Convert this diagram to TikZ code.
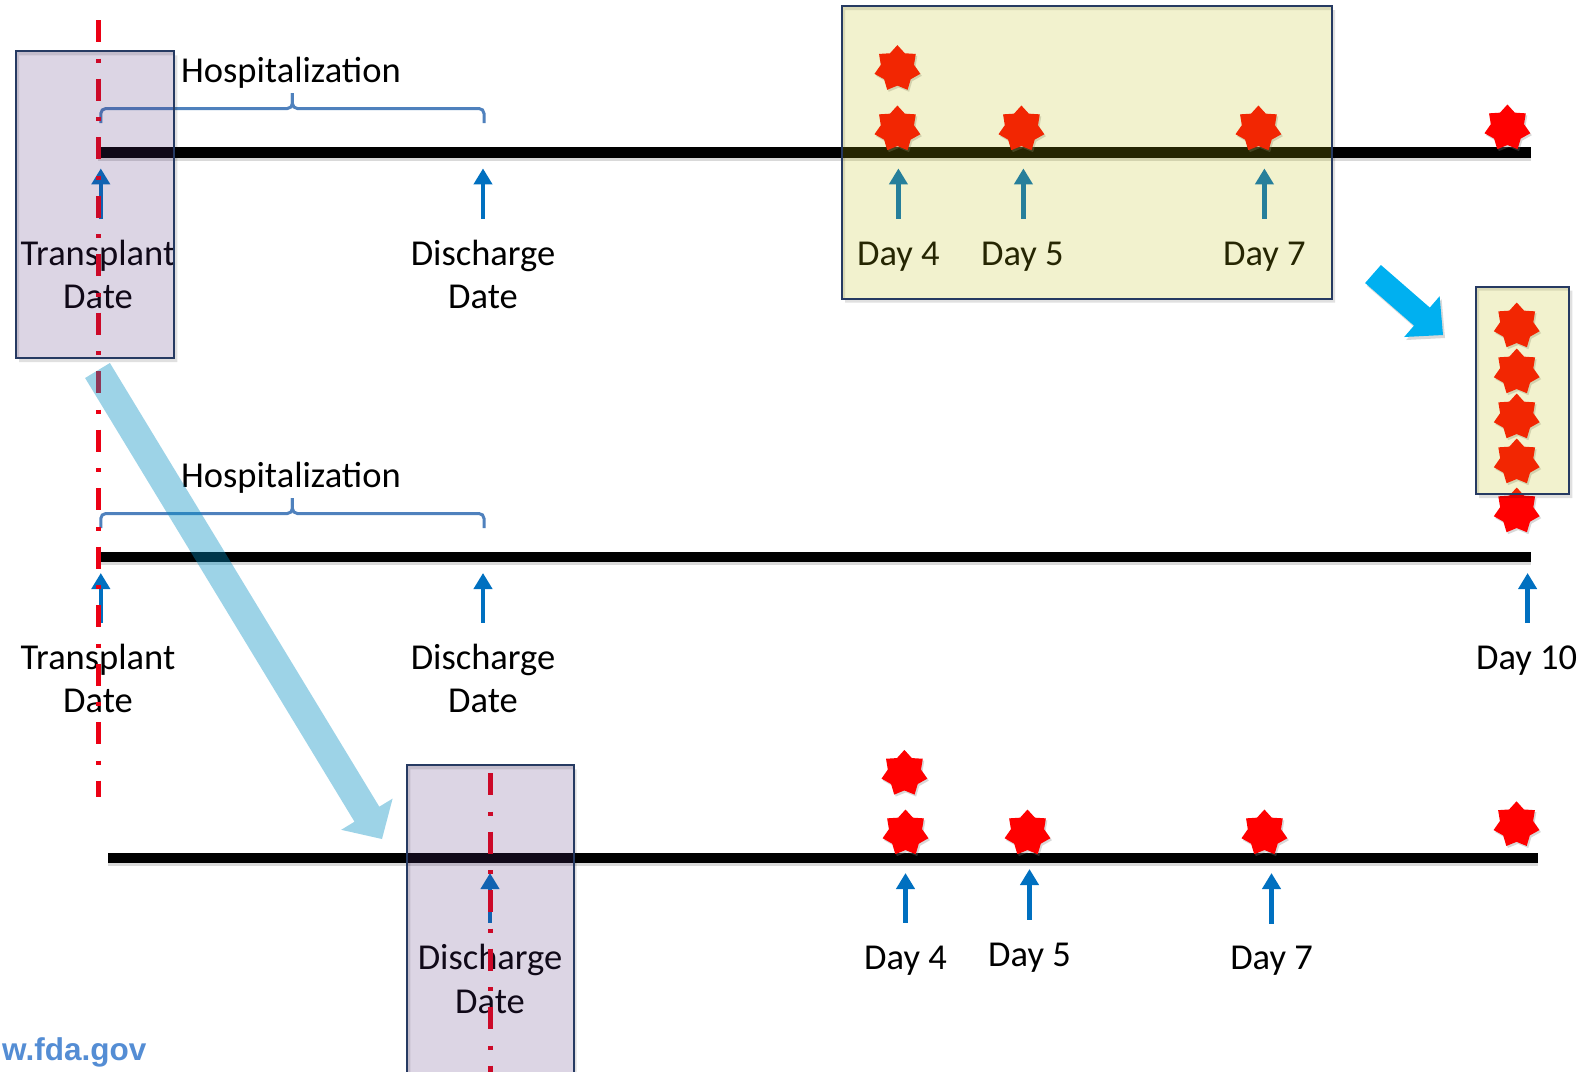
\documentclass[tikz,border=0pt]{standalone}
\usepackage{fontspec}
\setmainfont{Carlito}
\newfontfamily\webfont{Liberation Sans}
\usetikzlibrary{arrows.meta,shapes.geometric,shadows}

\definecolor{tlred}{RGB}{235,0,20}
\definecolor{upblue}{RGB}{0,112,192}
\definecolor{bracecol}{RGB}{79,129,189}
\definecolor{boxedge}{RGB}{38,58,98}
\definecolor{lavtint}{RGB}{80,45,120}
\definecolor{yeltint}{RGB}{190,190,10}
\definecolor{paleblue}{RGB}{0,143,195}
\definecolor{skyblue}{RGB}{0,176,240}
\definecolor{fdablue}{RGB}{84,141,212}

\tikzset{
  timeline/.style={line width=10.5pt, black},
  tlshadow/.style={line width=10.5pt, black, opacity=.15},
  marker/.style={tlred, line width=5pt, dash pattern=on 22pt off 16.5pt on 4pt off 16pt},
  hbrace/.style={bracecol, line width=3pt, rounded corners=5pt},
  uparrow/.style={upblue, line width=4.5pt, -{Triangle[width=18pt,length=16pt]}},
  lbl/.style={font=\fontsize{36.5}{43.3}\selectfont, align=center, inner sep=0pt, anchor=base},
  evstar/.style={star, star points=7, star point ratio=1.38, minimum size=47pt,
    inner sep=0pt, fill=red, draw=none,
    drop shadow={shadow xshift=1.5pt, shadow yshift=-2pt, opacity=.3}},
  boxshadow/.style={black, opacity=.12, even odd rule},
  lavbox/.style={fill=lavtint, fill opacity=.2, draw=boxedge, line width=2pt},
  yelbox/.style={fill=yeltint, fill opacity=.2, draw=boxedge, line width=2pt},
}

\begin{document}
\begin{tikzpicture}[x=1pt,y=-1pt]
\useasboundingbox (0,0) rectangle (1581,1071);
\clip (0,0) rectangle (1581,1071);
\fill[white] (0,0) rectangle (1581,1071);

% ---- time lines ----
\coordinate (l1s) at (98,152.7);  \coordinate (l1e) at (1530.6,152.7);
\coordinate (l2s) at (98,557);    \coordinate (l2e) at (1530.6,557);
\coordinate (l3s) at (108,858);   \coordinate (l3e) at (1537.7,858);
\foreach \a/\b in {l1s/l1e, l2s/l2e, l3s/l3e} {
  \draw[tlshadow] ([yshift=-3pt]\a) -- ([yshift=-3pt]\b);
  \draw[timeline] (\a) -- (\b);
}

% ---- hospitalization braces ----
\coordinate (b1l) at (100.8,123);  \coordinate (b1r) at (484,123);
\coordinate (b1m) at (292.4,108.5); \coordinate (b1t) at (292.4,93);
\draw[hbrace] (b1l) -- (b1l |- b1m) -- (b1m) -- (b1t);
\draw[hbrace] (b1r) -- (b1r |- b1m) -- (b1m) -- (b1t);
\coordinate (b2l) at (100.8,528);  \coordinate (b2r) at (484,528);
\coordinate (b2m) at (292.4,513.5); \coordinate (b2t) at (292.4,498);
\draw[hbrace] (b2l) -- (b2l |- b2m) -- (b2m) -- (b2t);
\draw[hbrace] (b2r) -- (b2r |- b2m) -- (b2m) -- (b2t);

% ---- labels (two-line labels are placed by the baseline of their last line) ----
\node[lbl] (hosp1) at (291,82.7) {Hospitalization};
\node[lbl] (hosp2) at (291,487.7) {Hospitalization};
\node[lbl] (tx1) at (98,308.3) {Transplant\\Date};
\node[lbl] (dc1) at (483,308.3) {Discharge\\Date};
\node[lbl] (d4a) at (898.4,265) {Day 4};
\node[lbl] (d5a) at (1022.4,265) {Day 5};
\node[lbl] (d7a) at (1264.4,265) {Day 7};
\node[lbl] (tx2) at (98,712.6) {Transplant\\Date};
\node[lbl] (dc2) at (483,712.6) {Discharge\\Date};
\node[lbl] (d10) at (1526.6,669.3) {Day 10};
\node[lbl] (dc3) at (490,1013.1) {Discharge\\Date};
\node[lbl] (d4b) at (905.5,969.8) {Day 4};
\node[lbl] (d5b) at (1029.5,966.8) {Day 5};
\node[lbl] (d7b) at (1271.5,969.8) {Day 7};

% ---- event arrows pointing at the time lines ----
\foreach \n/\x/\yb/\yt in {
    a1/100.8/218.8/168.4, a2/483/218.8/168.4, a3/898.4/218.8/168.4,
    a4/1023.4/218.8/168.4, a5/1264.4/218.8/168.4,
    a6/100.8/622.5/573, a7/483/622.5/573, a8/1527.6/622.5/573,
    a9/490/922.6/873, a10/905.5/922.6/873, a11/1029.5/919.6/869,
    a12/1271.5/923.6/873} {
  \coordinate (\n f) at (\x,\yb);
  \coordinate (\n t) at (\x,\yt);
  \draw[uparrow] (\n f) -- (\n t);
}

% ---- events ----
\node[evstar] (s1) at (897.4,68.6) {};
\node[evstar] (s2) at (897.4,129) {};
\node[evstar] (s3) at (1021.4,129) {};
\node[evstar] (s4) at (1258.4,129) {};
\node[evstar] (s5) at (1507.4,128) {};
\node[evstar] (s6) at (1516.7,326) {};
\node[evstar] (s7) at (1516.7,372) {};
\node[evstar] (s8) at (1516.7,417) {};
\node[evstar] (s9) at (1516.7,462) {};
\node[evstar] (s10) at (1516.7,511) {};
\node[evstar] (s11) at (904.4,773.4) {};
\node[evstar] (s12) at (905.5,833) {};
\node[evstar] (s13) at (1027.5,833) {};
\node[evstar] (s14) at (1264.4,833) {};
\node[evstar] (s15) at (1516.5,824.8) {};

% ---- reference date markers ----
\coordinate (m1t) at (98,20);  \coordinate (m1b) at (98,797);
\coordinate (m2t) at (490,773); \coordinate (m2b) at (490,1085);
\draw[marker] (m1t) -- (m1b);
\draw[marker] (m2t) -- (m2b);

% ---- shift of the reference date ----
\fill[paleblue, opacity=.385]
  (109.9,363.0) -- (379.3,806.7) -- (392.6,798.6) -- (382,839)
  -- (341.2,829.8) -- (354.5,821.7) -- (85.1,378.0) -- cycle;

% ---- highlight boxes ----
\fill[boxshadow] (19.1,55.4) rectangle (177.4,362) (16.1,51.4) rectangle (174.4,358);
\draw[lavbox] (16.1,51.4) rectangle (174.4,358);
\fill[boxshadow] (410.4,769.3) rectangle (576.7,1094) (407.4,765.3) rectangle (573.7,1090);
\draw[lavbox] (407.4,765.3) rectangle (573.7,1090);
\fill[boxshadow] (845,10) rectangle (1335,302.5) (842,6) rectangle (1332,298.5);
\draw[yelbox] (842,6) rectangle (1332,298.5);
\fill[boxshadow] (1479,290.7) rectangle (1572.3,498) (1476,286.7) rectangle (1569.3,494);
\draw[yelbox] (1476,286.7) rectangle (1569.3,494);

% ---- stacking arrow ----
\fill[black, opacity=.15]
  (1382.9,268.0) -- (1431.8,310.6) -- (1441.6,299.2) -- (1445,338)
  -- (1406.2,340.0) -- (1416.0,328.6) -- (1367.1,286.0) -- cycle;
\fill[skyblue]
  (1380.9,265.0) -- (1429.8,307.6) -- (1439.6,296.2) -- (1443,335)
  -- (1404.2,337.0) -- (1414.0,325.6) -- (1365.1,283.0) -- cycle;

% ---- source ----
\node[font=\webfont\bfseries\fontsize{31.5}{38}\selectfont, text=fdablue,
      anchor=base west, inner sep=0pt] (web) at (2,1060) {w.fda.gov};
\end{tikzpicture}
\end{document}
